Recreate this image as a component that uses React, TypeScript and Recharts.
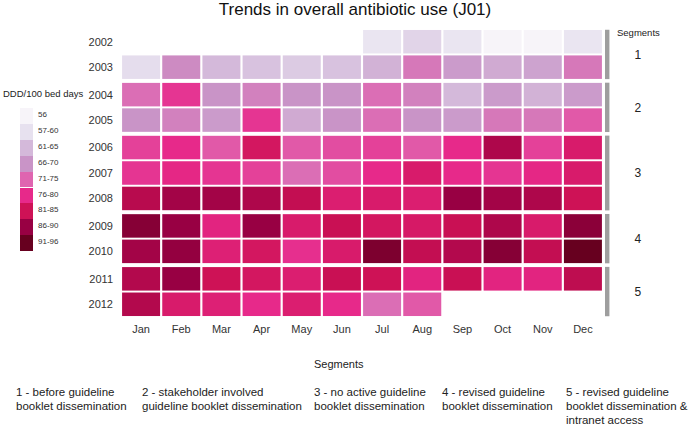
import { ScatterChart, Scatter, XAxis, YAxis, ReferenceArea } from "recharts";

const MONTHS = ["Jan", "Feb", "Mar", "Apr", "May", "Jun", "Jul", "Aug", "Sep", "Oct", "Nov", "Dec"];
const YEARS = [2002, 2003, 2004, 2005, 2006, 2007, 2008, 2009, 2010, 2011, 2012];
const SEGMENT_OF_YEAR = [1, 1, 2, 2, 3, 3, 3, 4, 4, 5, 5];
const SEGMENTS = [1, 2, 3, 4, 5];

// DDD/100 bed days per month (null = no data)
const d2002 = [null, null, null, null, null, null, 58, 60, 58, 56, 56, 58];
const d2003 = [59, 69, 63, 62, 61, 62, 64, 71, 67, 65, 66, 71];
const d2004 = [72, 77, 68, 70, 68, 68, 72, 70, 63, 67, 64, 67];
const d2005 = [68, 70, 67, 77, 65, 68, 72, 68, 67, 71, 71, 74];
const d2006 = [76, 78, 74, 82, 74, 75, 76, 74, 78, 86, 76, 81];
const d2007 = [77, 78.5, 77, 76, 72, 75, 78, 81, 78, 77, 78.5, 81];
const d2008 = [85, 87, 87, 86, 84, 80.5, 81, 80.5, 88, 87, 86, 83];
const d2009 = [90, 88, 79, 88, 81, 83.5, 82, 81.5, 83.5, 86, 81, 89.5];
const d2010 = [87, 88.5, 80, 82, 77.5, 81, 91, 84, 85.5, 90, 84, 94];
const d2011 = [85.5, 88, 83, 82, 80.5, 83.5, 83, 79, 83.5, 79, 79, 84.5];
const d2012 = [85.5, 81, 80, 78, 80.5, 78, 72, 74, null, null, null, null];
const DDD = [d2002, d2003, d2004, d2005, d2006, d2007, d2008, d2009, d2010, d2011, d2012];

const LEGEND_LABELS = ["56", "57-60", "61-65", "66-70", "71-75", "76-80", "81-85", "86-90", "91-96"];
const LEGEND_COLORS = ["#f7f4f9", "#e7e1ef", "#d4b9da", "#c994c7", "#df65b0", "#e7298a", "#ce1256", "#980043", "#67001f"];
const COLOR_STOPS = [56, 58.5, 63, 68, 73, 78, 83, 88, 93.5];

const SEGMENT_NOTES = [
  ["1 - before guideline", "booklet dissemination"],
  ["2 - stakeholder involved", "guideline booklet dissemination"],
  ["3 - no active guideline", "booklet dissemination"],
  ["4 - revised guideline", "booklet dissemination"],
  ["5 - revised guideline", "booklet dissemination &", "intranet access"],
];
const NOTE_X = [16, 142, 314, 442, 566];

const GAP = 0.08; // extra space between segments, in rows
const CELL_W = 38;
const CELL_H = 23.5;
const HALF = 0.47;

const rowPos = (i: number) => i + (SEGMENT_OF_YEAR[i] - 1) * GAP;

const hex = (c: string) => [1, 3, 5].map((k) => parseInt(c.slice(k, k + 2), 16));
function colorFor(v: number) {
  if (v <= COLOR_STOPS[0]) return LEGEND_COLORS[0];
  for (let i = 1; i < COLOR_STOPS.length; i++) {
    if (v <= COLOR_STOPS[i]) {
      const t = (v - COLOR_STOPS[i - 1]) / (COLOR_STOPS[i] - COLOR_STOPS[i - 1]);
      const a = hex(LEGEND_COLORS[i - 1]);
      const b = hex(LEGEND_COLORS[i]);
      const m = a.map((x, k) => Math.round(x + (b[k] - x) * t));
      return `rgb(${m[0]},${m[1]},${m[2]})`;
    }
  }
  return LEGEND_COLORS[LEGEND_COLORS.length - 1];
}

const cells = DDD.flatMap((row, i) =>
  row.map((v, m) => ({ m, y: rowPos(i), v })).filter((c) => c.v !== null)
);
const yTicks = YEARS.map((_, i) => rowPos(i));

const HeatCell = (p: any) => (
  <rect x={p.cx - CELL_W / 2} y={p.cy - CELL_H / 2} width={CELL_W} height={CELL_H} fill={colorFor(p.payload.v)} />
);

const FONT = '"Liberation Sans", Arial, Helvetica, sans-serif';

export default function App() {
  return (
    <div style={{ position: "absolute", left: 0, top: 0, width: 689, height: 425, background: "#fff", fontFamily: FONT }}>
      <ScatterChart width={689} height={425} margin={{ top: 29, right: 86, bottom: 78, left: 61 }}>
        <XAxis
          type="number"
          dataKey="m"
          domain={[-0.5, 11.5]}
          ticks={MONTHS.map((_, i) => i)}
          tickFormatter={(i: number) => MONTHS[i]}
          axisLine={false}
          tickLine={false}
          tickSize={0}
          tickMargin={8}
          height={30}
          tick={{ fontSize: 11, fill: "#333", fontFamily: FONT }}
        />
        <YAxis
          type="number"
          dataKey="y"
          reversed
          domain={[-0.5, rowPos(YEARS.length - 1) + 0.5]}
          ticks={yTicks}
          tickFormatter={(y: number) => String(YEARS[yTicks.indexOf(y)])}
          axisLine={false}
          tickLine={false}
          tickSize={0}
          tickMargin={8}
          width={60}
          tick={{ fontSize: 11, fill: "#333", fontFamily: FONT }}
        />
        <Scatter data={cells} shape={HeatCell} isAnimationActive={false} />
        {SEGMENTS.map((s) => {
          const rows = SEGMENT_OF_YEAR.map((g, i) => (g === s ? i : -1)).filter((i) => i >= 0);
          return (
            <ReferenceArea
              key={s}
              x1={11.55}
              x2={11.66}
              y1={rowPos(rows[0]) - HALF}
              y2={rowPos(rows[rows.length - 1]) + HALF}
              ifOverflow="visible"
              fill="#9e9e9e"
              fillOpacity={1}
              stroke="none"
              label={{ value: String(s), position: "right", offset: 25, fill: "#222", fontSize: 12, fontFamily: FONT }}
            />
          );
        })}
      </ScatterChart>

      <div style={{ position: "absolute", left: 0, width: 710, top: 0, textAlign: "center", fontSize: 17, color: "#111" }}>
        Trends in overall antibiotic use (J01)
      </div>
      <div style={{ position: "absolute", left: 617, top: 27, fontSize: 9.5, color: "#222" }}>Segments</div>

      <div style={{ position: "absolute", left: 3, top: 88, fontSize: 9.5, color: "#222", whiteSpace: "nowrap" }}>
        DDD/100 bed days
      </div>
      {LEGEND_LABELS.map((lab, i) => (
        <div key={lab}>
          <div style={{ position: "absolute", left: 20, top: 108 + i * 15.9, width: 13, height: 15.9, background: LEGEND_COLORS[i] }} />
          <div style={{ position: "absolute", left: 38, top: 110 + i * 15.9, fontSize: 8, color: "#333" }}>{lab}</div>
        </div>
      ))}

      <div style={{ position: "absolute", left: NOTE_X[2], top: 358, fontSize: 11, color: "#222" }}>Segments</div>
      {SEGMENT_NOTES.map((lines, i) => (
        <div
          key={i}
          style={{ position: "absolute", left: NOTE_X[i], top: 385, fontSize: 11.5, lineHeight: "14px", color: "#222", whiteSpace: "nowrap" }}
        >
          {lines.map((l) => (
            <div key={l}>{l}</div>
          ))}
        </div>
      ))}
    </div>
  );
}
